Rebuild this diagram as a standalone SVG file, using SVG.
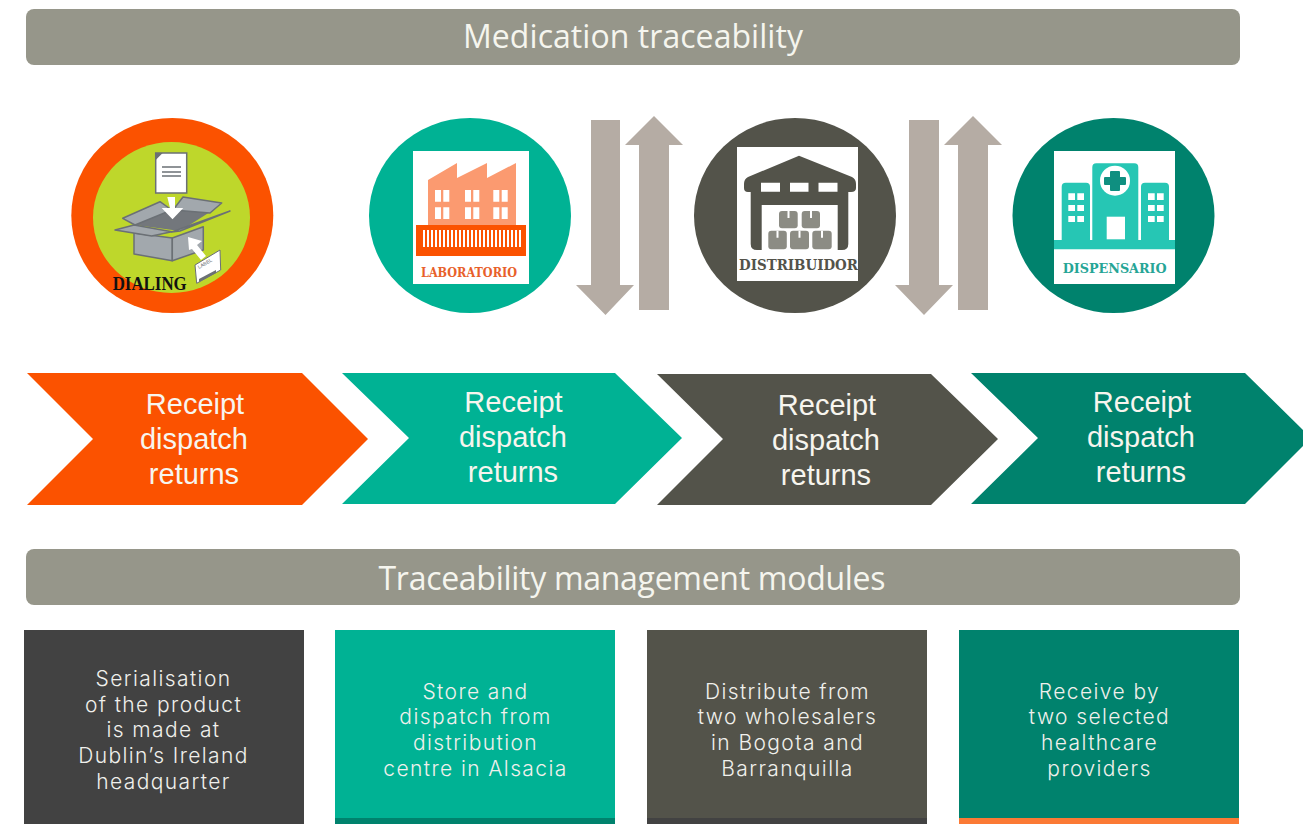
<svg xmlns="http://www.w3.org/2000/svg" width="1303" height="824" viewBox="0 0 1303 824">
<defs>
<style>
.hdr{fill:#96968a}
.ht{font-family:"Open Sans","Noto Sans",sans-serif;font-size:32px;fill:#f5f5ee;text-anchor:middle}
.cv{font-family:"Liberation Sans",Arial,sans-serif;font-size:29px;fill:#f7f5ee;text-anchor:middle}
.bt{font-family:Inter,Lato,sans-serif;font-weight:300;font-size:21px;letter-spacing:1.4px;text-anchor:middle;fill:#f0f0ec}
.lb{font-family:"DejaVu Serif","Liberation Serif",serif;font-weight:700;text-anchor:middle}
.arr{fill:#b5aca4}
.w{fill:#fff}
.or{fill:#fb5200}.te{fill:#00b294}.dk{fill:#53534a}.gr{fill:#00826d}
.gb{fill:#a2a8ad;stroke:#6b7075;stroke-width:1.5;stroke-linejoin:round}
.bx{fill:#8c8c84}
</style>
</defs>
<g id="header-top"><rect class="hdr" x="26" y="9" width="1214" height="56" rx="8"/><text class="ht" x="633" y="48" textLength="340">Medication traceability</text></g>
<g id="node-dialing">
<ellipse class="or" cx="172.300" cy="215.500" rx="101" ry="97.500"/><ellipse cx="171.500" cy="217.500" rx="78.500" ry="75.500" fill="#bed72b"/>
<path d="M155.700 153h31v40h-31z" fill="#fff" stroke="#6b7075" stroke-width="1.500"/><path d="M155.700 153h7l-7 7z" fill="#6b7075"/>
<path d="M162 167h19M162 172h19M162 176h19" stroke="#6b7075" stroke-width="1.300" fill="none"/>
<path d="M135 225L165 208L210 212L180 231Z" fill="#73777c"/>
<path class="gb" d="M122.700 218.300L160 201.700L171.700 210L135 225Z"/>
<path class="gb" d="M173 210L183 197L221.700 203L210 213Z"/>
<path class="gb" d="M134 233L172.300 238V260.700L134 254Z"/>
<path class="gb" d="M172.300 238L203.300 226.700V250L172.300 260.700Z"/>
<path class="gb" d="M115 230L134 225L171.700 231.700L151.700 236Z"/>
<path class="gb" d="M171.700 232L230 211L180 231Z"/>
<path d="M167.300 197h7.700v11h8.300l-10.800 11.300l-10.800-11.300h8.300z" fill="#fff"/>
<path d="M188 237L202 241L197 245L206 256L201 260L192 249L189 250Z" fill="#fff"/>
<path d="M195 265L220 250L220.700 270L196.700 283.300Z" fill="#fff" stroke="#6b7075"/>
<text x="0" y="0" transform="translate(199 269) rotate(-30)" font-family="Liberation Sans,sans-serif" font-size="5" fill="#6b7075">LABEL</text>
<path d="M199 279L216 270V273L199 282Z" fill="#6b7075"/>
<text class="lb" x="149.700" y="290" font-size="18" style="font-family:'Liberation Serif',serif" fill="#111" textLength="74" lengthAdjust="spacingAndGlyphs">DIALING</text>
</g>
<g id="node-laboratorio">
<ellipse class="te" cx="470" cy="215.500" rx="101" ry="97.500"/><rect class="w" x="413" y="151" width="116" height="133"/>
<path d="M428 180L457 163V178L487 163V178L516 163V226H428Z" fill="#fb9a70"/>
<path class="w" d="M435 190h6v11.700h-6zM443.300 190h6v11.700h-6zM465 190h6v11.700h-6zM473.300 190h6v11.700h-6zM493.300 190h6v11.700h-6zM501.700 190h6v11.700h-6zM435 207.300h6v11.700h-6zM443.300 207.300h6v11.700h-6zM465 207.300h6v11.700h-6zM473.300 207.300h6v11.700h-6zM493.300 207.300h6v11.700h-6zM501.700 207.300h6v11.700h-6z"/>
<rect class="or" x="416" y="225" width="110" height="31"/>
<path d="M424 230V247M428 230V247M432 230V247M436 230V247M440 230V247M444 230V247M448 230V247M452 230V247M456 230V247M460 230V247M464 230V247M468 230V247M472 230V247M476 230V247M480 230V247M484 230V247M488 230V247M492 230V247M496 230V247M500 230V247M504 230V247M508 230V247M512 230V247M516 230V247M520 230V247" stroke="#fff" stroke-width="2"/>
<text class="lb" x="469" y="277" font-size="12.500" fill="#e8602a" textLength="96" lengthAdjust="spacingAndGlyphs">LABORATORIO</text>
</g>
<g id="node-distribuidor">
<ellipse class="dk" cx="795" cy="215.500" rx="101" ry="97.500"/><rect class="w" x="737" y="147" width="121" height="134"/>
<path class="dk" d="M799 155.700L852 177Q856 179 856 184V188Q856 192 851 192H848.300V244Q848.300 250 842 250H837.700V205H761.700V250H757Q750.700 250 750.700 244V192H748Q744 192 744 188V184Q744 179 748 177Z"/>
<path class="w" d="M761 182.700h19v9h-19zM790 182.700h18.500v9h-18.500zM818.500 182.700h19v9h-19z"/>
<rect class="bx" x="779" y="211" width="18.700" height="17.300" rx="3"/><rect class="bx" x="801.700" y="211" width="18.300" height="17.300" rx="3"/>
<rect class="bx" x="768.300" y="230.700" width="18.500" height="18.600" rx="3"/><rect class="bx" x="790" y="230.700" width="19" height="18.600" rx="3"/><rect class="bx" x="812.300" y="230.700" width="19.400" height="18.600" rx="3"/>
<path class="w" d="M787.500 211h2v7h-2zM810 211h2v7h-2zM776.500 230.700h2v7h-2zM798.500 230.700h2v7h-2zM821 230.700h2v7h-2z"/>
<text class="lb" x="798.500" y="270" font-size="14" fill="#53534a" textLength="119" lengthAdjust="spacingAndGlyphs">DISTRIBUIDOR</text>
</g>
<g id="node-dispensario">
<ellipse class="gr" cx="1113.500" cy="215.500" rx="101" ry="97.500"/><rect class="w" x="1054" y="151" width="121" height="133"/>
<path fill="#26c6b4" d="M1054 240H1061.700V186.700q0-4 4-4H1086q4 0 4 4V240H1092.300V167.300q0-4 4-4H1134.300q4 0 4 4V240H1141V186.700q0-4 4-4H1165q4 0 4 4V240H1175V249.300H1054Z"/>
<circle class="w" cx="1115" cy="180.700" r="15"/>
<path fill="#0f8f80" d="M1111 171h8q1 0 1 1v5h5q1 0 1 1v6q0 1-1 1h-5v5q0 1-1 1h-8q-1 0-1-1v-5h-5q-1 0-1-1v-6q0-1 1-1h5v-5q0-1 1-1z"/>
<rect class="w" x="1106.700" y="216.700" width="18.300" height="22.600"/>
<path class="w" d="M1068.300 193.300h6.700v6.700h-6.700zM1077.300 193.300h6.700v6.700h-6.700zM1068.300 205h6.700v6h-6.700zM1077.300 205h6.700v6h-6.700zM1068.300 216h6.700v6h-6.700zM1077.300 216h6.700v6h-6.700zM1148 193.300h6.700v6.700h-6.700zM1157 193.300h6.700v6.700h-6.700zM1148 205h6.700v6h-6.700zM1157 205h6.700v6h-6.700zM1148 216h6.700v6h-6.700zM1157 216h6.700v6h-6.700z"/>
<text class="lb" x="1114.700" y="272.500" font-size="13" fill="#26a596" textLength="104" lengthAdjust="spacingAndGlyphs">DISPENSARIO</text>
</g>
<g id="connectors">
<path class="arr" d="M591 120H620V285H634L605.500 315L576 285H591Z"/>
<path class="arr" d="M639 310H669V145H683L654 116L625 145H639Z"/>
<path class="arr" d="M909 120H939V285H953L924 315L895 285H909Z"/>
<path class="arr" d="M958 310H988V145H1002L973 116L944 145H958Z"/>
</g>
<g id="step-1"><path class="or" d="M27 373H302L368 439L302 505H27L93 439Z"/>
<text class="cv"><tspan x="195" y="414">Receipt</tspan><tspan x="194" y="449">dispatch</tspan><tspan x="194" y="484">returns</tspan></text></g>
<g id="step-2"><path class="te" d="M342 373H615L682 438L615 504H342L409 438Z"/>
<text class="cv"><tspan x="513.500" y="412">Receipt</tspan><tspan x="513" y="447">dispatch</tspan><tspan x="513" y="482">returns</tspan></text></g>
<g id="step-3"><path class="dk" d="M657 374H931L998 439L931 505H657L723 439Z"/>
<text class="cv"><tspan x="827" y="414.500">Receipt</tspan><tspan x="826" y="449.500">dispatch</tspan><tspan x="826" y="484.500">returns</tspan></text></g>
<g id="step-4"><path class="gr" d="M971 373H1245L1311 438L1245 504H971L1038 438Z"/>
<text class="cv"><tspan x="1142" y="412">Receipt</tspan><tspan x="1141" y="447">dispatch</tspan><tspan x="1141" y="482">returns</tspan></text></g>
<g id="header-modules"><rect class="hdr" x="26" y="549" width="1214" height="56" rx="8"/><text class="ht" x="632" y="590" textLength="507">Traceability management modules</text></g>
<g id="module-1"><rect x="24" y="630" width="280" height="194" fill="#424242"/>
<text class="bt"><tspan x="163.500" y="686">Serialisation</tspan><tspan x="163.500" y="712">of the product</tspan><tspan x="163.500" y="737">is made at</tspan><tspan x="163.500" y="763">Dublin’s Ireland</tspan><tspan x="163.500" y="789">headquarter</tspan></text></g>
<g id="module-2"><rect class="te" x="335" y="630" width="280" height="194"/><rect class="gr" x="335" y="818" width="280" height="6"/>
<text class="bt"><tspan x="475.500" y="699">Store and</tspan><tspan x="475.500" y="724">dispatch from</tspan><tspan x="475.500" y="750">distribution</tspan><tspan x="475.500" y="776">centre in Alsacia</tspan></text></g>
<g id="module-3"><rect class="dk" x="647" y="630" width="280" height="194"/><rect x="647" y="818" width="280" height="6" fill="#424242"/>
<text class="bt"><tspan x="787.500" y="699">Distribute from</tspan><tspan x="787.500" y="724">two wholesalers</tspan><tspan x="787.500" y="750">in Bogota and</tspan><tspan x="787.500" y="776">Barranquilla</tspan></text></g>
<g id="module-4"><rect class="gr" x="959" y="630" width="280" height="194"/><rect x="959" y="818" width="280" height="6" fill="#fb7a35"/>
<text class="bt"><tspan x="1099.500" y="699">Receive by</tspan><tspan x="1099.500" y="724">two selected</tspan><tspan x="1099.500" y="750">healthcare</tspan><tspan x="1099.500" y="776">providers</tspan></text></g>
</svg>
